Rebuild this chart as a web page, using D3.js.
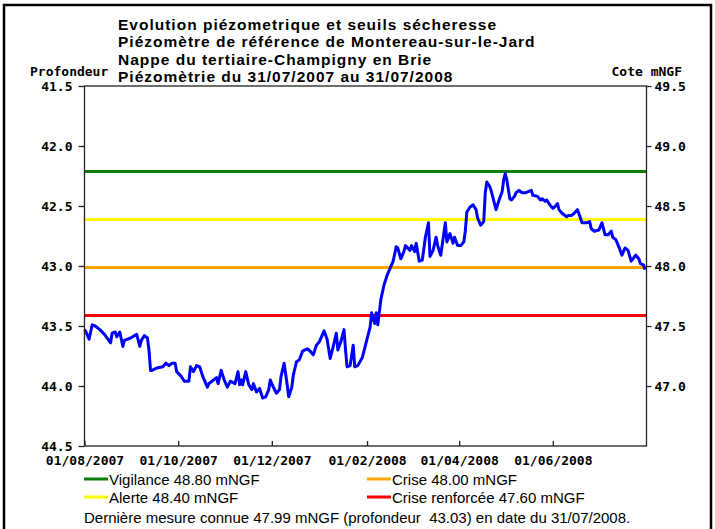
<!DOCTYPE html>
<html>
<head>
<meta charset="utf-8">
<script src="https://cdn.jsdelivr.net/npm/d3@7"></script>
<style>
  body { margin: 0; background: #fff; }
  svg { display: block; }
  .mono { font-family: "DejaVu Sans Mono", "Liberation Mono", monospace; font-weight: bold; font-size: 13px; fill: #000; }
  .sans { font-family: "Liberation Sans", Arial, sans-serif; fill: #000; }
</style>
</head>
<body>
<svg id="chart" width="715" height="529"></svg>
<script>
// --- data -------------------------------------------------------------
const startDate = new Date(2007, 7, 1);
const endDate = new Date(2008, 7, 1);
const repere = 91.0; // cote = repere - profondeur

// jours depuis le 01/08/2007
const dayOffsets = [
  0, 1, 3, 4, 5, 7, 10, 13, 17, 18,
  20, 21, 23, 25, 26, 30, 34, 36, 37, 39,
  41, 42, 43, 44, 47, 51, 53, 55, 57, 59,
  60, 63, 65, 68, 69, 71, 73, 75, 77, 80,
  81, 84, 86, 87, 89, 91, 93, 95, 98, 100,
  101, 102, 103, 105, 107, 109, 110, 112, 114, 116,
  118, 120, 121, 123, 125, 127, 128, 130, 132, 133,
  135, 136, 138, 140, 142, 145, 147, 149, 151, 153,
  156, 158, 160, 162, 164, 165, 167, 169, 170, 171,
  173, 175, 176, 178, 181, 183, 185, 186, 187, 189,
  190, 191, 193, 195, 197, 199, 201, 203, 204, 206,
  208, 209, 212, 213, 215, 216, 218, 220, 222, 224,
  225, 227, 229, 230, 232, 234, 235, 236, 238, 240,
  241, 243, 245, 247, 248, 249, 251, 253, 255, 256,
  258, 260, 261, 262, 264, 265, 267, 268, 270, 272,
  273, 274, 275, 277, 278, 280, 281, 283, 285, 287,
  289, 291, 292, 295, 297, 298, 300, 301, 303, 305,
  306, 308, 309, 311, 314, 315, 317, 319, 321, 323,
  324, 327, 329, 330, 332, 335, 336, 337, 339, 341,
  343, 344, 346, 348, 350, 352, 354, 356, 359, 361,
  362, 364, 365
];

// profondeur (m)
const profondeur = [
  43.53, 43.55, 43.61, 43.55, 43.49, 43.50, 43.53, 43.57, 43.64, 43.56,
  43.55, 43.59, 43.55, 43.67, 43.62, 43.60, 43.57, 43.67, 43.62, 43.58,
  43.60, 43.70, 43.87, 43.87, 43.85, 43.84, 43.81, 43.83, 43.81, 43.81,
  43.88, 43.92, 43.96, 43.96, 43.84, 43.88, 43.83, 43.84, 43.92, 44.01,
  43.98, 43.95, 43.93, 43.98, 43.87, 43.95, 44.01, 43.96, 43.98, 43.88,
  43.99, 43.95, 43.99, 43.88, 43.99, 44.03, 43.98, 44.05, 44.02, 44.10,
  44.09, 44.03, 43.95, 44.01, 44.06, 44.03, 43.92, 43.81, 43.99, 44.09,
  44.01, 43.91, 43.80, 43.78, 43.71, 43.69, 43.71, 43.74, 43.66, 43.63,
  43.54, 43.61, 43.77, 43.67, 43.56, 43.70, 43.63, 43.53, 43.70, 43.84,
  43.83, 43.66, 43.84, 43.83, 43.76, 43.66, 43.56, 43.51, 43.39, 43.48,
  43.39, 43.49, 43.28, 43.16, 43.08, 43.02, 42.96, 42.84, 42.85, 42.94,
  42.88, 42.83, 42.87, 42.83, 42.88, 42.81, 42.96, 42.95, 42.76, 42.64,
  42.92, 42.87, 42.76, 42.83, 42.91, 42.73, 42.64, 42.80, 42.73, 42.81,
  42.76, 42.83, 42.83, 42.80, 42.71, 42.55, 42.51, 42.49, 42.53, 42.60,
  42.66, 42.63, 42.39, 42.30, 42.34, 42.38, 42.48, 42.53, 42.45, 42.38,
  42.28, 42.23, 42.28, 42.44, 42.45, 42.42, 42.39, 42.37, 42.39, 42.39,
  42.38, 42.37, 42.41, 42.42, 42.45, 42.44, 42.46, 42.45, 42.49, 42.52,
  42.51, 42.48, 42.53, 42.56, 42.59, 42.58, 42.58, 42.56, 42.53, 42.60,
  42.64, 42.64, 42.63, 42.69, 42.71, 42.70, 42.67, 42.64, 42.74, 42.74,
  42.71, 42.76, 42.78, 42.84, 42.91, 42.85, 42.87, 42.96, 42.91, 42.94,
  42.98, 42.99, 43.03
];

const titleLines = [
  "Evolution piézometrique et seuils sécheresse",
  "Piézomètre de référence de Montereau-sur-le-Jard",
  "Nappe du tertiaire-Champigny en Brie",
  "Piézomètrie du 31/07/2007 au 31/07/2008"
];

const xTickDates = ["2007-08-01", "2007-10-01", "2007-12-01", "2008-02-01", "2008-04-01", "2008-06-01"];
const leftTicks = [41.5, 42.0, 42.5, 43.0, 43.5, 44.0, 44.5];
const rightTicks = [49.5, 49.0, 48.5, 48.0, 47.5, 47.0];

const seuilNames = ["Vigilance", "Alerte", "Crise", "Crise renforcée"];
const seuilValues = [48.80, 48.40, 48.00, 47.60];
const seuilColors = ["#0a800a", "#ffff00", "#ffa500", "#ff0000"];

const derniereCote = 47.99;
const derniereProf = 43.03;
const derniereDate = "31/07/2008";

// --- chart ------------------------------------------------------------
const plot = { left: 84.5, right: 646.5, top: 86, bottom: 446 };

const svg = d3.select("#chart");

svg.append("rect")
  .attr("x", 4).attr("y", 5)
  .attr("width", 707).attr("height", 540)
  .attr("fill", "#fff")
  .attr("stroke", "#000")
  .attr("stroke-width", 2.5);

const x = d3.scaleTime()
  .domain([startDate, endDate])
  .range([plot.left, plot.right]);

const y = d3.scaleLinear()
  .domain([41.5, 44.5])
  .range([plot.top, plot.bottom]);

const yCote = d3.scaleLinear()
  .domain([repere - 41.5, repere - 44.5])
  .range([plot.top, plot.bottom]);

const data = dayOffsets.map((d, i) => ({
  date: d3.timeDay.offset(startDate, d),
  prof: profondeur[i]
}));

// title
svg.append("g")
  .selectAll("text")
  .data(titleLines)
  .join("text")
  .attr("class", "sans")
  .attr("x", 118)
  .attr("y", (d, i) => 30 + i * 17.3)
  .style("font-size", "15.5px")
  .style("letter-spacing", "1px")
  .style("font-weight", "bold")
  .text(d => d);

svg.append("text").attr("class", "mono")
  .attr("x", 30).attr("y", 76)
  .text("Profondeur");

svg.append("text").attr("class", "mono")
  .attr("x", 682).attr("y", 76)
  .attr("text-anchor", "end")
  .text("Cote mNGF");

// thresholds
svg.append("g")
  .selectAll("line")
  .data(seuilValues)
  .join("line")
  .attr("x1", plot.left).attr("x2", plot.right)
  .attr("y1", d => yCote(d) + 1.5).attr("y2", d => yCote(d) + 1.5)
  .attr("stroke", (d, i) => seuilColors[i])
  .attr("stroke-width", 3);

// series
const line = d3.line()
  .x(d => x(d.date))
  .y(d => y(d.prof));

svg.append("path")
  .datum(data)
  .attr("d", line)
  .attr("fill", "none")
  .attr("stroke", "#0000ff")
  .attr("stroke-width", 3)
  .attr("stroke-linejoin", "round");

// frame
svg.append("rect")
  .attr("x", plot.left).attr("y", plot.top)
  .attr("width", plot.right - plot.left)
  .attr("height", plot.bottom - plot.top)
  .attr("fill", "none")
  .attr("stroke", "#222")
  .attr("stroke-width", 1.3);

// axes
const xAxis = svg.append("g")
  .attr("transform", `translate(0,${plot.bottom})`)
  .call(d3.axisBottom(x)
    .tickValues(xTickDates.map(d => d3.timeParse("%Y-%m-%d")(d)))
    .tickFormat(d3.timeFormat("%d/%m/%Y"))
    .tickSizeInner(-5)
    .tickSizeOuter(0)
    .tickPadding(10));

const leftAxis = svg.append("g")
  .attr("transform", `translate(${plot.left},0)`)
  .call(d3.axisLeft(y)
    .tickValues(leftTicks)
    .tickFormat(d => d.toFixed(1))
    .tickSize(6)
    .tickPadding(6));

const rightAxis = svg.append("g")
  .attr("transform", `translate(${plot.right},0)`)
  .call(d3.axisRight(yCote)
    .tickValues(rightTicks)
    .tickFormat(d => d.toFixed(1))
    .tickSize(5)
    .tickPadding(3));

[xAxis, leftAxis, rightAxis].forEach(g => {
  g.select(".domain").remove();
  g.selectAll(".tick line").attr("stroke", "#222").attr("stroke-width", 1.3);
  g.selectAll(".tick text")
    .attr("class", "mono")
    .attr("font-family", null)
    .attr("font-size", null)
    .attr("fill", "#000");
});

// legend
const legend = svg.append("g")
  .selectAll("g")
  .data(seuilNames)
  .join("g")
  .attr("transform", (d, i) => `translate(${i < 2 ? 84 : 367},${479 + (i % 2) * 18})`);

legend.append("line")
  .attr("x1", 0).attr("x2", 24)
  .attr("stroke", (d, i) => seuilColors[i])
  .attr("stroke-width", 3);

legend.append("text")
  .attr("class", "sans")
  .attr("x", 25).attr("y", 5.5)
  .style("font-size", "15px")
  .text((d, i) => `${d} ${seuilValues[i].toFixed(2)} mNGF`);

svg.append("text")
  .attr("class", "sans")
  .attr("x", 84).attr("y", 523)
  .attr("xml:space", "preserve")
  .style("font-size", "15px")
  .style("white-space", "pre")
  .text(`Dernière mesure connue ${derniereCote.toFixed(2)} mNGF (profondeur  ${derniereProf.toFixed(2)}) en date du ${derniereDate}.`);
</script>
</body>
</html>
